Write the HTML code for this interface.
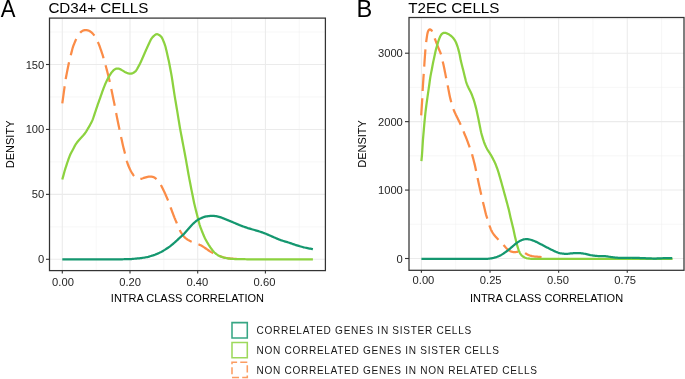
<!DOCTYPE html>
<html><head><meta charset="utf-8"><style>
html,body{margin:0;padding:0;background:#fff;}
body{width:685px;height:379px;overflow:hidden;}
svg{display:block;will-change:transform;}
text{font-family:"Liberation Sans",sans-serif;}
.tk{font-size:11.2px;fill:#262626;}
.at{font-size:11px;fill:#000;}
.ti{font-size:15.2px;fill:#000;}
.lt{font-size:23.6px;fill:#000;}
.lg{font-size:11.2px;fill:#1a1a1a;}
</style></head><body>
<svg width="685" height="379" viewBox="0 0 685 379">
<rect width="685" height="379" fill="#fff"/>
<line x1="96.15" y1="18.10" x2="96.15" y2="270.60" stroke="#f1f1f1" stroke-width="0.55"/>
<line x1="163.85" y1="18.10" x2="163.85" y2="270.60" stroke="#f1f1f1" stroke-width="0.55"/>
<line x1="231.55" y1="18.10" x2="231.55" y2="270.60" stroke="#f1f1f1" stroke-width="0.55"/>
<line x1="299.25" y1="18.10" x2="299.25" y2="270.60" stroke="#f1f1f1" stroke-width="0.55"/>
<line x1="49.50" y1="226.83" x2="325.40" y2="226.83" stroke="#f1f1f1" stroke-width="0.55"/>
<line x1="49.50" y1="161.90" x2="325.40" y2="161.90" stroke="#f1f1f1" stroke-width="0.55"/>
<line x1="49.50" y1="96.96" x2="325.40" y2="96.96" stroke="#f1f1f1" stroke-width="0.55"/>
<line x1="49.50" y1="32.03" x2="325.40" y2="32.03" stroke="#f1f1f1" stroke-width="0.55"/>
<line x1="62.30" y1="18.10" x2="62.30" y2="270.60" stroke="#ebebeb" stroke-width="1.07"/>
<line x1="130.00" y1="18.10" x2="130.00" y2="270.60" stroke="#ebebeb" stroke-width="1.07"/>
<line x1="197.70" y1="18.10" x2="197.70" y2="270.60" stroke="#ebebeb" stroke-width="1.07"/>
<line x1="265.40" y1="18.10" x2="265.40" y2="270.60" stroke="#ebebeb" stroke-width="1.07"/>
<line x1="49.50" y1="259.30" x2="325.40" y2="259.30" stroke="#ebebeb" stroke-width="1.07"/>
<line x1="49.50" y1="194.37" x2="325.40" y2="194.37" stroke="#ebebeb" stroke-width="1.07"/>
<line x1="49.50" y1="129.43" x2="325.40" y2="129.43" stroke="#ebebeb" stroke-width="1.07"/>
<line x1="49.50" y1="64.50" x2="325.40" y2="64.50" stroke="#ebebeb" stroke-width="1.07"/>
<path d="M62.30,103.30 L62.44,102.31 L62.57,101.32 L62.71,100.33 L62.85,99.33 L62.99,98.34 L63.12,97.35 L63.26,96.36 L63.40,95.37 L63.53,94.38 L63.67,93.39 L63.81,92.40 L63.94,91.40 L64.08,90.41 L64.22,89.42 L64.36,88.43 L64.50,87.44 L64.63,86.45 L64.77,85.46 L64.91,84.47 L65.05,83.47 L65.19,82.48 L65.33,81.49 L65.48,80.50 L65.63,79.51 L65.80,78.53 L65.98,77.54 L66.16,76.56 L66.35,75.58 L66.53,74.59 L66.72,73.61 L66.91,72.63 L67.09,71.64 L67.29,70.66 L67.48,69.68 L67.68,68.70 L67.88,67.72 L68.09,66.74 L68.30,65.76 L68.50,64.78 L68.71,63.80 L68.93,62.83 L69.15,61.85 L69.37,60.87 L69.61,59.90 L69.85,58.93 L70.09,57.96 L70.34,56.99 L70.58,56.02 L70.82,55.05 L71.07,54.08 L71.31,53.11 L71.56,52.14 L71.80,51.17 L72.05,50.20 L72.30,49.23 L72.56,48.26 L72.85,47.31 L73.16,46.36 L73.51,45.42 L73.88,44.49 L74.26,43.57 L74.64,42.64 L75.03,41.72 L75.42,40.80 L75.82,39.89 L76.24,38.98 L76.69,38.09 L77.17,37.22 L77.68,36.36 L78.21,35.51 L78.75,34.67 L79.32,33.86 L79.93,33.07 L80.59,32.35 L81.31,31.69 L82.09,31.11 L82.93,30.64 L83.82,30.30 L84.75,30.09 L85.71,30.03 L86.67,30.10 L87.62,30.29 L88.55,30.59 L89.44,30.99 L90.29,31.48 L91.10,32.05 L91.85,32.68 L92.55,33.38 L93.20,34.12 L93.82,34.90 L94.41,35.71 L94.96,36.54 L95.47,37.39 L95.95,38.26 L96.42,39.15 L96.87,40.04 L97.31,40.94 L97.75,41.83 L98.18,42.74 L98.59,43.65 L98.98,44.57 L99.34,45.50 L99.68,46.44 L100.01,47.38 L100.35,48.33 L100.68,49.27 L101.01,50.22 L101.33,51.16 L101.66,52.11 L101.98,53.06 L102.30,54.01 L102.60,54.96 L102.89,55.92 L103.17,56.88 L103.44,57.84 L103.71,58.80 L103.99,59.77 L104.26,60.73 L104.53,61.69 L104.81,62.65 L105.08,63.62 L105.36,64.58 L105.63,65.54 L105.90,66.50 L106.17,67.47 L106.43,68.44 L106.68,69.40 L106.93,70.37 L107.18,71.34 L107.42,72.31 L107.67,73.28 L107.92,74.25 L108.16,75.22 L108.41,76.19 L108.65,77.16 L108.89,78.14 L109.12,79.11 L109.34,80.09 L109.56,81.06 L109.77,82.04 L109.99,83.02 L110.20,83.99 L110.42,84.97 L110.63,85.95 L110.84,86.93 L111.06,87.91 L111.27,88.88 L111.47,89.86 L111.68,90.84 L111.88,91.82 L112.08,92.80 L112.29,93.78 L112.49,94.76 L112.69,95.74 L112.89,96.72 L113.10,97.70 L113.30,98.68 L113.50,99.66 L113.70,100.64 L113.91,101.62 L114.11,102.60 L114.31,103.58 L114.50,104.57 L114.70,105.55 L114.89,106.53 L115.08,107.51 L115.27,108.49 L115.46,109.48 L115.65,110.46 L115.84,111.44 L116.03,112.42 L116.22,113.41 L116.41,114.39 L116.60,115.37 L116.79,116.36 L116.98,117.34 L117.18,118.32 L117.37,119.30 L117.57,120.28 L117.77,121.26 L117.98,122.24 L118.18,123.22 L118.39,124.20 L118.59,125.18 L118.80,126.16 L119.00,127.14 L119.21,128.12 L119.41,129.10 L119.62,130.08 L119.83,131.06 L120.03,132.04 L120.24,133.01 L120.45,133.99 L120.66,134.97 L120.87,135.95 L121.08,136.93 L121.29,137.91 L121.50,138.88 L121.72,139.86 L121.93,140.84 L122.14,141.82 L122.35,142.80 L122.57,143.77 L122.79,144.75 L123.02,145.72 L123.26,146.70 L123.50,147.67 L123.74,148.64 L123.99,149.61 L124.23,150.58 L124.48,151.55 L124.72,152.52 L124.97,153.49 L125.21,154.46 L125.44,155.43 L125.68,156.41 L125.90,157.38 L126.13,158.36 L126.35,159.33 L126.60,160.30 L126.86,161.26 L127.16,162.22 L127.48,163.16 L127.82,164.10 L128.17,165.04 L128.54,165.97 L128.92,166.89 L129.32,167.81 L129.73,168.72 L130.16,169.63 L130.60,170.52 L131.07,171.40 L131.56,172.27 L132.08,173.12 L132.63,173.96 L133.19,174.79 L133.77,175.59 L134.40,176.36 L135.06,177.09 L135.77,177.76 L136.52,178.33 L137.33,178.76 L138.19,179.01 L139.10,179.07 L140.05,178.98 L141.01,178.80 L141.96,178.54 L142.92,178.25 L143.86,177.94 L144.81,177.62 L145.77,177.33 L146.73,177.06 L147.69,176.82 L148.66,176.63 L149.64,176.52 L150.61,176.50 L151.58,176.59 L152.53,176.79 L153.45,177.10 L154.32,177.52 L155.15,178.04 L155.93,178.63 L156.66,179.29 L157.33,180.01 L157.96,180.78 L158.56,181.58 L159.14,182.39 L159.71,183.21 L160.27,184.04 L160.79,184.89 L161.29,185.75 L161.76,186.63 L162.21,187.53 L162.65,188.43 L163.08,189.33 L163.52,190.23 L163.95,191.13 L164.38,192.03 L164.80,192.94 L165.22,193.85 L165.62,194.77 L166.02,195.68 L166.42,196.60 L166.82,197.52 L167.21,198.44 L167.60,199.36 L167.98,200.29 L168.35,201.22 L168.71,202.15 L169.06,203.09 L169.40,204.03 L169.73,204.97 L170.07,205.92 L170.40,206.86 L170.74,207.80 L171.09,208.74 L171.44,209.68 L171.79,210.61 L172.14,211.55 L172.49,212.49 L172.85,213.42 L173.20,214.36 L173.56,215.30 L173.92,216.23 L174.28,217.16 L174.65,218.09 L175.04,219.01 L175.42,219.94 L175.82,220.86 L176.21,221.78 L176.61,222.70 L177.00,223.62 L177.39,224.54 L177.79,225.46 L178.18,226.38 L178.57,227.30 L178.96,228.22 L179.36,229.14 L179.77,230.05 L180.21,230.94 L180.69,231.81 L181.20,232.67 L181.74,233.51 L182.29,234.34 L182.87,235.16 L183.47,235.95 L184.11,236.70 L184.80,237.41 L185.53,238.08 L186.30,238.71 L187.10,239.30 L187.93,239.85 L188.79,240.35 L189.67,240.81 L190.57,241.25 L191.48,241.66 L192.40,242.04 L193.34,242.40 L194.28,242.73 L195.22,243.06 L196.16,243.40 L197.10,243.74 L198.04,244.10 L198.96,244.48 L199.86,244.90 L200.76,245.35 L201.63,245.82 L202.50,246.33 L203.35,246.85 L204.19,247.39 L205.02,247.94 L205.85,248.50 L206.68,249.07 L207.50,249.64 L208.32,250.22 L209.14,250.79 L209.97,251.34 L210.81,251.87 L211.67,252.38 L212.55,252.85 L213.44,253.31 L214.33,253.76 L215.23,254.21 L216.13,254.65 L217.03,255.07 L217.95,255.47 L218.88,255.84 L219.81,256.18 L220.76,256.51 L221.71,256.82 L222.66,257.12 L223.62,257.39 L224.59,257.63 L225.57,257.83 L226.55,258.01 L227.54,258.18 L228.53,258.33 L229.52,258.46 L230.51,258.57 L231.51,258.65 L232.50,258.72 L233.50,258.77 L234.50,258.82 L235.50,258.88 L236.50,258.93 L237.50,258.98 L238.50,259.03 L239.50,259.08 L240.00,259.10" fill="none" stroke="#fb8c47" stroke-width="2.25" stroke-linejoin="round" stroke-dasharray="17.2 7.25"/>
<path d="M62.30,179.50 L62.56,178.54 L62.83,177.57 L63.09,176.61 L63.36,175.64 L63.62,174.68 L63.89,173.71 L64.15,172.75 L64.42,171.78 L64.69,170.82 L64.98,169.86 L65.27,168.90 L65.57,167.95 L65.88,167.00 L66.19,166.05 L66.49,165.10 L66.81,164.14 L67.12,163.20 L67.44,162.25 L67.77,161.30 L68.10,160.36 L68.43,159.42 L68.77,158.47 L69.11,157.53 L69.46,156.60 L69.83,155.67 L70.22,154.75 L70.64,153.85 L71.09,152.96 L71.56,152.08 L72.04,151.20 L72.52,150.32 L72.99,149.44 L73.45,148.55 L73.90,147.66 L74.35,146.77 L74.82,145.88 L75.31,145.02 L75.84,144.17 L76.39,143.34 L76.97,142.53 L77.58,141.73 L78.20,140.95 L78.85,140.19 L79.51,139.44 L80.18,138.70 L80.87,137.97 L81.56,137.25 L82.24,136.52 L82.92,135.79 L83.58,135.04 L84.21,134.27 L84.83,133.48 L85.41,132.67 L85.98,131.85 L86.51,131.01 L87.03,130.15 L87.53,129.29 L88.03,128.42 L88.54,127.56 L89.04,126.69 L89.54,125.83 L90.03,124.96 L90.51,124.08 L90.98,123.19 L91.43,122.30 L91.87,121.40 L92.28,120.49 L92.66,119.57 L93.02,118.64 L93.36,117.70 L93.68,116.75 L94.00,115.81 L94.31,114.86 L94.63,113.91 L94.95,112.96 L95.26,112.01 L95.58,111.06 L95.90,110.11 L96.21,109.16 L96.53,108.21 L96.85,107.27 L97.17,106.32 L97.49,105.37 L97.82,104.43 L98.15,103.48 L98.49,102.54 L98.82,101.60 L99.16,100.66 L99.50,99.72 L99.84,98.77 L100.17,97.83 L100.51,96.89 L100.84,95.94 L101.17,95.00 L101.49,94.05 L101.82,93.11 L102.15,92.16 L102.49,91.22 L102.83,90.28 L103.18,89.34 L103.53,88.41 L103.89,87.47 L104.25,86.54 L104.62,85.61 L105.00,84.68 L105.38,83.76 L105.78,82.85 L106.20,81.94 L106.64,81.04 L107.08,80.14 L107.54,79.25 L108.00,78.37 L108.47,77.48 L108.96,76.61 L109.45,75.74 L109.96,74.88 L110.49,74.04 L111.05,73.21 L111.64,72.41 L112.27,71.64 L112.92,70.90 L113.62,70.21 L114.37,69.60 L115.18,69.09 L116.05,68.72 L116.94,68.52 L117.85,68.51 L118.75,68.67 L119.66,68.98 L120.55,69.39 L121.42,69.85 L122.28,70.36 L123.13,70.89 L123.97,71.41 L124.83,71.92 L125.71,72.37 L126.61,72.77 L127.54,73.12 L128.48,73.41 L129.42,73.63 L130.35,73.74 L131.26,73.68 L132.15,73.45 L133.02,73.07 L133.86,72.59 L134.65,72.03 L135.37,71.39 L136.01,70.66 L136.57,69.87 L137.09,69.02 L137.58,68.16 L138.06,67.28 L138.54,66.40 L139.02,65.53 L139.49,64.64 L139.95,63.76 L140.39,62.86 L140.82,61.95 L141.23,61.04 L141.63,60.13 L142.03,59.21 L142.43,58.29 L142.83,57.38 L143.23,56.46 L143.63,55.54 L144.02,54.62 L144.42,53.70 L144.82,52.79 L145.22,51.87 L145.62,50.96 L146.03,50.04 L146.44,49.13 L146.86,48.22 L147.27,47.31 L147.69,46.40 L148.11,45.49 L148.52,44.58 L148.94,43.67 L149.36,42.76 L149.78,41.85 L150.20,40.95 L150.65,40.06 L151.13,39.20 L151.67,38.38 L152.28,37.61 L152.94,36.87 L153.64,36.17 L154.36,35.50 L155.09,34.90 L155.83,34.44 L156.60,34.20 L157.39,34.22 L158.20,34.49 L159.02,34.92 L159.82,35.45 L160.57,36.06 L161.23,36.74 L161.80,37.51 L162.27,38.36 L162.68,39.25 L163.07,40.17 L163.45,41.10 L163.82,42.02 L164.19,42.95 L164.55,43.89 L164.89,44.82 L165.20,45.77 L165.49,46.73 L165.74,47.69 L165.97,48.67 L166.20,49.64 L166.43,50.61 L166.65,51.59 L166.87,52.56 L167.10,53.54 L167.32,54.51 L167.54,55.49 L167.77,56.46 L167.99,57.44 L168.21,58.42 L168.43,59.39 L168.65,60.37 L168.86,61.35 L169.06,62.33 L169.26,63.31 L169.45,64.29 L169.63,65.27 L169.82,66.25 L170.00,67.24 L170.19,68.22 L170.38,69.20 L170.56,70.19 L170.75,71.17 L170.93,72.15 L171.12,73.14 L171.30,74.12 L171.48,75.10 L171.65,76.09 L171.82,77.08 L171.97,78.06 L172.12,79.05 L172.27,80.04 L172.42,81.03 L172.57,82.02 L172.71,83.01 L172.86,84.00 L173.01,84.99 L173.16,85.98 L173.30,86.97 L173.45,87.96 L173.60,88.95 L173.75,89.94 L173.89,90.93 L174.04,91.92 L174.19,92.91 L174.34,93.89 L174.50,94.88 L174.65,95.87 L174.82,96.86 L174.98,97.84 L175.15,98.83 L175.31,99.82 L175.48,100.80 L175.65,101.79 L175.81,102.78 L175.98,103.76 L176.14,104.75 L176.31,105.74 L176.48,106.72 L176.64,107.71 L176.81,108.70 L176.98,109.68 L177.14,110.67 L177.31,111.66 L177.47,112.64 L177.63,113.63 L177.79,114.62 L177.95,115.61 L178.11,116.59 L178.27,117.58 L178.43,118.57 L178.59,119.56 L178.75,120.54 L178.92,121.53 L179.08,122.52 L179.24,123.51 L179.40,124.49 L179.56,125.48 L179.72,126.47 L179.89,127.45 L180.06,128.44 L180.24,129.42 L180.42,130.41 L180.60,131.39 L180.79,132.37 L180.98,133.36 L181.16,134.34 L181.35,135.32 L181.53,136.31 L181.72,137.29 L181.91,138.27 L182.09,139.25 L182.28,140.24 L182.46,141.22 L182.65,142.20 L182.84,143.19 L183.02,144.17 L183.21,145.15 L183.39,146.14 L183.58,147.12 L183.77,148.10 L183.95,149.08 L184.14,150.07 L184.32,151.05 L184.51,152.03 L184.70,153.02 L184.88,154.00 L185.07,154.98 L185.25,155.97 L185.43,156.95 L185.61,157.93 L185.79,158.92 L185.97,159.90 L186.14,160.89 L186.31,161.87 L186.49,162.86 L186.66,163.84 L186.83,164.83 L187.01,165.82 L187.18,166.80 L187.35,167.79 L187.53,168.77 L187.70,169.76 L187.87,170.74 L188.04,171.73 L188.22,172.71 L188.39,173.70 L188.57,174.68 L188.74,175.67 L188.92,176.65 L189.11,177.64 L189.29,178.62 L189.48,179.60 L189.67,180.58 L189.86,181.56 L190.06,182.55 L190.25,183.53 L190.44,184.51 L190.63,185.49 L190.82,186.48 L191.01,187.46 L191.20,188.44 L191.39,189.42 L191.59,190.40 L191.78,191.38 L191.98,192.36 L192.18,193.34 L192.38,194.33 L192.58,195.31 L192.77,196.29 L192.97,197.27 L193.17,198.25 L193.37,199.23 L193.57,200.21 L193.77,201.19 L193.97,202.17 L194.18,203.15 L194.39,204.12 L194.62,205.10 L194.85,206.07 L195.09,207.04 L195.34,208.01 L195.58,208.98 L195.83,209.95 L196.07,210.92 L196.32,211.89 L196.56,212.86 L196.80,213.83 L197.05,214.80 L197.29,215.77 L197.54,216.74 L197.78,217.71 L198.02,218.68 L198.26,219.65 L198.51,220.63 L198.75,221.60 L199.00,222.56 L199.26,223.53 L199.53,224.49 L199.83,225.44 L200.15,226.39 L200.49,227.33 L200.84,228.27 L201.19,229.20 L201.55,230.14 L201.91,231.07 L202.27,232.00 L202.65,232.93 L203.03,233.85 L203.43,234.77 L203.82,235.69 L204.22,236.61 L204.63,237.52 L205.06,238.42 L205.51,239.32 L205.98,240.20 L206.46,241.07 L206.96,241.94 L207.46,242.80 L207.97,243.67 L208.49,244.52 L209.02,245.37 L209.57,246.20 L210.13,247.03 L210.71,247.85 L211.28,248.66 L211.87,249.47 L212.47,250.27 L213.09,251.04 L213.76,251.78 L214.46,252.47 L215.21,253.13 L215.98,253.76 L216.77,254.37 L217.59,254.93 L218.43,255.44 L219.31,255.89 L220.22,256.29 L221.15,256.66 L222.09,256.99 L223.04,257.29 L224.00,257.56 L224.97,257.80 L225.95,258.02 L226.92,258.22 L227.91,258.39 L228.90,258.53 L229.89,258.65 L230.88,258.76 L231.88,258.85 L232.87,258.93 L233.87,259.00 L234.87,259.06 L235.87,259.10 L236.87,259.12 L237.87,259.14 L238.87,259.16 L239.87,259.17 L240.87,259.18 L241.87,259.19 L242.87,259.21 L243.87,259.22 L244.87,259.23 L245.87,259.25 L246.87,259.26 L247.87,259.27 L248.87,259.28 L249.87,259.29 L250.87,259.30 L251.87,259.30 L252.87,259.30 L253.87,259.30 L254.87,259.30 L255.87,259.30 L256.88,259.30 L257.88,259.30 L258.88,259.30 L259.88,259.30 L260.88,259.30 L261.88,259.30 L262.88,259.30 L263.88,259.30 L264.88,259.30 L265.88,259.30 L266.88,259.30 L267.88,259.30 L268.88,259.30 L269.88,259.30 L270.88,259.30 L271.88,259.30 L272.88,259.30 L273.88,259.30 L274.88,259.30 L275.88,259.30 L276.88,259.30 L277.88,259.30 L278.89,259.30 L279.89,259.30 L280.89,259.30 L281.89,259.30 L282.89,259.30 L283.89,259.30 L284.89,259.30 L285.89,259.30 L286.89,259.30 L287.89,259.30 L288.89,259.30 L289.89,259.30 L290.89,259.30 L291.89,259.30 L292.89,259.30 L293.89,259.30 L294.89,259.30 L295.89,259.30 L296.89,259.30 L297.89,259.30 L298.89,259.30 L299.89,259.30 L300.89,259.30 L301.90,259.30 L302.90,259.30 L303.90,259.30 L304.90,259.30 L305.90,259.30 L306.90,259.30 L307.90,259.30 L308.90,259.30 L309.90,259.30 L310.90,259.30 L311.90,259.30 L312.90,259.30" fill="none" stroke="#8cd23f" stroke-width="2.25" stroke-linejoin="round"/>
<path d="M62.30,259.30 L63.30,259.30 L64.30,259.30 L65.30,259.30 L66.30,259.30 L67.30,259.30 L68.30,259.30 L69.30,259.30 L70.31,259.30 L71.31,259.30 L72.31,259.30 L73.31,259.30 L74.31,259.30 L75.31,259.30 L76.31,259.30 L77.31,259.30 L78.31,259.30 L79.31,259.30 L80.31,259.30 L81.31,259.30 L82.31,259.30 L83.31,259.30 L84.32,259.30 L85.32,259.30 L86.32,259.30 L87.32,259.30 L88.32,259.30 L89.32,259.30 L90.32,259.30 L91.32,259.30 L92.32,259.30 L93.32,259.30 L94.32,259.30 L95.32,259.30 L96.32,259.30 L97.32,259.30 L98.33,259.30 L99.33,259.30 L100.33,259.30 L101.33,259.30 L102.33,259.30 L103.33,259.30 L104.33,259.30 L105.33,259.30 L106.33,259.30 L107.33,259.30 L108.33,259.30 L109.33,259.30 L110.33,259.30 L111.33,259.30 L112.34,259.30 L113.34,259.30 L114.34,259.30 L115.34,259.30 L116.34,259.30 L117.34,259.30 L118.34,259.30 L119.34,259.29 L120.34,259.29 L121.34,259.28 L122.34,259.26 L123.34,259.25 L124.34,259.23 L125.34,259.22 L126.34,259.20 L127.34,259.19 L128.34,259.16 L129.34,259.13 L130.34,259.08 L131.34,259.01 L132.34,258.93 L133.33,258.84 L134.33,258.75 L135.33,258.66 L136.32,258.57 L137.32,258.47 L138.32,258.38 L139.31,258.27 L140.30,258.16 L141.30,258.03 L142.29,257.89 L143.28,257.75 L144.27,257.59 L145.25,257.43 L146.23,257.24 L147.21,257.03 L148.18,256.80 L149.15,256.54 L150.11,256.27 L151.07,255.99 L152.03,255.70 L152.98,255.40 L153.92,255.07 L154.86,254.72 L155.79,254.35 L156.72,253.98 L157.64,253.60 L158.56,253.20 L159.47,252.79 L160.37,252.35 L161.25,251.89 L162.12,251.40 L162.99,250.90 L163.85,250.39 L164.71,249.88 L165.56,249.35 L166.40,248.81 L167.23,248.26 L168.07,247.70 L168.89,247.13 L169.71,246.56 L170.51,245.96 L171.29,245.34 L172.06,244.71 L172.83,244.06 L173.58,243.41 L174.34,242.75 L175.09,242.09 L175.83,241.42 L176.57,240.74 L177.30,240.06 L178.03,239.37 L178.76,238.69 L179.49,238.01 L180.23,237.34 L180.98,236.67 L181.73,236.01 L182.47,235.34 L183.19,234.65 L183.89,233.94 L184.57,233.20 L185.23,232.45 L185.88,231.70 L186.54,230.94 L187.19,230.18 L187.85,229.43 L188.51,228.68 L189.17,227.93 L189.84,227.18 L190.51,226.43 L191.18,225.70 L191.86,224.97 L192.57,224.26 L193.29,223.56 L194.02,222.89 L194.77,222.22 L195.52,221.57 L196.29,220.94 L197.08,220.34 L197.91,219.80 L198.77,219.30 L199.66,218.85 L200.56,218.43 L201.47,218.02 L202.39,217.62 L203.31,217.25 L204.25,216.92 L205.20,216.66 L206.17,216.45 L207.15,216.29 L208.14,216.15 L209.13,216.02 L210.13,215.91 L211.12,215.83 L212.11,215.80 L213.10,215.84 L214.09,215.93 L215.08,216.06 L216.06,216.21 L217.05,216.38 L218.02,216.58 L218.99,216.81 L219.94,217.09 L220.89,217.42 L221.82,217.77 L222.75,218.14 L223.68,218.52 L224.60,218.89 L225.53,219.27 L226.46,219.64 L227.39,220.02 L228.31,220.40 L229.24,220.77 L230.17,221.15 L231.09,221.53 L232.02,221.91 L232.95,222.29 L233.87,222.67 L234.79,223.06 L235.71,223.45 L236.64,223.84 L237.56,224.23 L238.48,224.61 L239.40,225.00 L240.33,225.37 L241.26,225.73 L242.20,226.08 L243.14,226.43 L244.08,226.76 L245.03,227.10 L245.97,227.43 L246.92,227.76 L247.86,228.08 L248.82,228.38 L249.77,228.67 L250.73,228.95 L251.70,229.22 L252.66,229.49 L253.63,229.76 L254.59,230.02 L255.55,230.30 L256.51,230.58 L257.47,230.87 L258.42,231.17 L259.37,231.48 L260.33,231.79 L261.28,232.11 L262.22,232.43 L263.17,232.75 L264.11,233.09 L265.04,233.45 L265.97,233.83 L266.89,234.22 L267.80,234.62 L268.72,235.03 L269.64,235.43 L270.55,235.84 L271.47,236.24 L272.38,236.64 L273.30,237.04 L274.22,237.44 L275.14,237.83 L276.06,238.23 L276.98,238.62 L277.90,239.02 L278.82,239.40 L279.75,239.76 L280.69,240.11 L281.64,240.43 L282.59,240.73 L283.55,241.01 L284.51,241.30 L285.47,241.58 L286.43,241.86 L287.38,242.15 L288.34,242.46 L289.29,242.77 L290.23,243.09 L291.18,243.42 L292.12,243.75 L293.07,244.09 L294.01,244.42 L294.96,244.74 L295.91,245.06 L296.86,245.36 L297.82,245.65 L298.78,245.94 L299.74,246.22 L300.70,246.49 L301.66,246.76 L302.62,247.03 L303.59,247.29 L304.56,247.52 L305.54,247.74 L306.52,247.95 L307.50,248.14 L308.48,248.34 L309.46,248.53 L310.44,248.72 L311.43,248.91 L312.41,249.10 L312.90,249.20" fill="none" stroke="#14976f" stroke-width="2.25" stroke-linejoin="round"/>
<rect x="49.50" y="18.10" width="275.90" height="252.50" fill="none" stroke="#333333" stroke-width="1.25"/>
<line x1="62.30" y1="270.60" x2="62.30" y2="273.50" stroke="#333333" stroke-width="1.1"/>
<line x1="130.00" y1="270.60" x2="130.00" y2="273.50" stroke="#333333" stroke-width="1.1"/>
<line x1="197.70" y1="270.60" x2="197.70" y2="273.50" stroke="#333333" stroke-width="1.1"/>
<line x1="265.40" y1="270.60" x2="265.40" y2="273.50" stroke="#333333" stroke-width="1.1"/>
<line x1="46.00" y1="259.30" x2="49.50" y2="259.30" stroke="#333333" stroke-width="1.1"/>
<line x1="46.00" y1="194.37" x2="49.50" y2="194.37" stroke="#333333" stroke-width="1.1"/>
<line x1="46.00" y1="129.43" x2="49.50" y2="129.43" stroke="#333333" stroke-width="1.1"/>
<line x1="46.00" y1="64.50" x2="49.50" y2="64.50" stroke="#333333" stroke-width="1.1"/>
<text x="63.00" y="285.50" text-anchor="middle" class="tk">0.00</text>
<text x="130.17" y="285.50" text-anchor="middle" class="tk">0.20</text>
<text x="197.33" y="285.50" text-anchor="middle" class="tk">0.40</text>
<text x="264.50" y="285.50" text-anchor="middle" class="tk">0.60</text>
<text x="44.30" y="263.05" text-anchor="end" class="tk">0</text>
<text x="44.30" y="198.15" text-anchor="end" class="tk">50</text>
<text x="44.30" y="133.15" text-anchor="end" class="tk">100</text>
<text x="44.30" y="69.05" text-anchor="end" class="tk">150</text>
<text x="187.45" y="301.8" text-anchor="middle" class="at">INTRA CLASS CORRELATION</text>
<text transform="translate(14.20 144.35) rotate(-90)" text-anchor="middle" class="at">DENSITY</text>
<text x="48.40" y="12.9" class="ti">CD34+ CELLS</text>
<text transform="translate(0.80 17.0) scale(0.935 1)" class="lt">A</text>
<line x1="455.71" y1="17.50" x2="455.71" y2="270.30" stroke="#f1f1f1" stroke-width="0.55"/>
<line x1="524.34" y1="17.50" x2="524.34" y2="270.30" stroke="#f1f1f1" stroke-width="0.55"/>
<line x1="592.96" y1="17.50" x2="592.96" y2="270.30" stroke="#f1f1f1" stroke-width="0.55"/>
<line x1="661.59" y1="17.50" x2="661.59" y2="270.30" stroke="#f1f1f1" stroke-width="0.55"/>
<line x1="409.00" y1="224.28" x2="684.00" y2="224.28" stroke="#f1f1f1" stroke-width="0.55"/>
<line x1="409.00" y1="155.85" x2="684.00" y2="155.85" stroke="#f1f1f1" stroke-width="0.55"/>
<line x1="409.00" y1="87.42" x2="684.00" y2="87.42" stroke="#f1f1f1" stroke-width="0.55"/>
<line x1="409.00" y1="18.99" x2="684.00" y2="18.99" stroke="#f1f1f1" stroke-width="0.55"/>
<line x1="421.40" y1="17.50" x2="421.40" y2="270.30" stroke="#ebebeb" stroke-width="1.07"/>
<line x1="490.02" y1="17.50" x2="490.02" y2="270.30" stroke="#ebebeb" stroke-width="1.07"/>
<line x1="558.65" y1="17.50" x2="558.65" y2="270.30" stroke="#ebebeb" stroke-width="1.07"/>
<line x1="627.27" y1="17.50" x2="627.27" y2="270.30" stroke="#ebebeb" stroke-width="1.07"/>
<line x1="409.00" y1="258.50" x2="684.00" y2="258.50" stroke="#ebebeb" stroke-width="1.07"/>
<line x1="409.00" y1="190.07" x2="684.00" y2="190.07" stroke="#ebebeb" stroke-width="1.07"/>
<line x1="409.00" y1="121.64" x2="684.00" y2="121.64" stroke="#ebebeb" stroke-width="1.07"/>
<line x1="409.00" y1="53.21" x2="684.00" y2="53.21" stroke="#ebebeb" stroke-width="1.07"/>
<path d="M421.20,115.40 L421.26,114.40 L421.33,113.40 L421.39,112.40 L421.45,111.41 L421.52,110.41 L421.58,109.41 L421.65,108.41 L421.71,107.41 L421.77,106.41 L421.84,105.42 L421.90,104.42 L421.97,103.42 L422.03,102.42 L422.10,101.42 L422.16,100.42 L422.22,99.42 L422.28,98.43 L422.33,97.43 L422.37,96.43 L422.42,95.43 L422.46,94.43 L422.50,93.43 L422.55,92.43 L422.59,91.43 L422.65,90.43 L422.70,89.43 L422.76,88.43 L422.83,87.44 L422.89,86.44 L422.95,85.44 L423.02,84.44 L423.08,83.44 L423.15,82.44 L423.21,81.44 L423.28,80.45 L423.34,79.45 L423.41,78.45 L423.48,77.45 L423.55,76.45 L423.62,75.46 L423.69,74.46 L423.76,73.46 L423.83,72.46 L423.90,71.46 L423.96,70.46 L424.02,69.47 L424.09,68.47 L424.15,67.47 L424.22,66.47 L424.28,65.47 L424.34,64.47 L424.41,63.48 L424.47,62.48 L424.54,61.48 L424.61,60.48 L424.68,59.48 L424.76,58.49 L424.83,57.49 L424.90,56.49 L424.98,55.49 L425.05,54.49 L425.12,53.50 L425.20,52.50 L425.27,51.50 L425.35,50.50 L425.43,49.51 L425.52,48.51 L425.62,47.51 L425.71,46.52 L425.81,45.52 L425.91,44.53 L426.01,43.53 L426.11,42.54 L426.23,41.54 L426.35,40.55 L426.49,39.56 L426.63,38.57 L426.77,37.58 L426.92,36.59 L427.07,35.60 L427.23,34.61 L427.41,33.63 L427.63,32.67 L427.91,31.73 L428.27,30.86 L428.73,30.12 L429.29,29.61 L429.94,29.40 L430.60,29.55 L431.22,30.01 L431.75,30.71 L432.19,31.54 L432.58,32.44 L432.93,33.37 L433.27,34.31 L433.60,35.26 L433.93,36.20 L434.26,37.15 L434.60,38.09 L434.95,39.02 L435.30,39.96 L435.66,40.89 L436.02,41.83 L436.38,42.76 L436.74,43.69 L437.11,44.63 L437.47,45.56 L437.84,46.49 L438.22,47.41 L438.60,48.34 L438.98,49.26 L439.37,50.19 L439.76,51.11 L440.14,52.03 L440.50,52.96 L440.83,53.90 L441.13,54.85 L441.39,55.81 L441.63,56.78 L441.86,57.76 L442.09,58.73 L442.32,59.71 L442.54,60.68 L442.76,61.66 L442.98,62.63 L443.20,63.61 L443.43,64.58 L443.64,65.56 L443.86,66.54 L444.07,67.51 L444.28,68.49 L444.48,69.47 L444.67,70.46 L444.86,71.44 L445.06,72.42 L445.25,73.40 L445.44,74.38 L445.63,75.37 L445.82,76.35 L446.01,77.33 L446.21,78.31 L446.41,79.29 L446.61,80.27 L446.82,81.25 L447.02,82.23 L447.22,83.21 L447.42,84.19 L447.62,85.17 L447.82,86.15 L448.01,87.13 L448.20,88.11 L448.39,89.10 L448.57,90.08 L448.76,91.06 L448.94,92.05 L449.13,93.03 L449.32,94.01 L449.51,94.99 L449.72,95.97 L449.94,96.95 L450.17,97.92 L450.41,98.89 L450.65,99.86 L450.89,100.83 L451.14,101.80 L451.38,102.77 L451.63,103.74 L451.88,104.71 L452.15,105.67 L452.44,106.63 L452.76,107.57 L453.11,108.51 L453.49,109.43 L453.88,110.35 L454.28,111.27 L454.69,112.18 L455.10,113.09 L455.52,114.00 L455.94,114.91 L456.38,115.81 L456.81,116.71 L457.25,117.61 L457.69,118.51 L458.13,119.41 L458.57,120.30 L459.01,121.20 L459.45,122.10 L459.90,122.99 L460.34,123.89 L460.78,124.79 L461.21,125.69 L461.62,126.60 L462.01,127.52 L462.39,128.45 L462.75,129.38 L463.11,130.32 L463.46,131.25 L463.82,132.19 L464.18,133.12 L464.56,134.05 L464.94,134.97 L465.33,135.89 L465.72,136.81 L466.10,137.74 L466.48,138.66 L466.84,139.59 L467.20,140.53 L467.54,141.47 L467.89,142.41 L468.23,143.35 L468.57,144.29 L468.91,145.23 L469.25,146.17 L469.59,147.11 L469.92,148.06 L470.25,149.00 L470.58,149.94 L470.91,150.89 L471.23,151.83 L471.55,152.78 L471.86,153.74 L472.14,154.69 L472.41,155.66 L472.67,156.62 L472.93,157.59 L473.18,158.56 L473.43,159.53 L473.68,160.49 L473.93,161.46 L474.18,162.43 L474.43,163.40 L474.66,164.37 L474.89,165.35 L475.11,166.32 L475.32,167.30 L475.53,168.28 L475.73,169.26 L475.94,170.24 L476.14,171.22 L476.35,172.20 L476.55,173.18 L476.76,174.16 L476.96,175.13 L477.17,176.11 L477.38,177.09 L477.58,178.07 L477.79,179.05 L478.01,180.03 L478.22,181.00 L478.43,181.98 L478.64,182.96 L478.85,183.94 L479.07,184.92 L479.28,185.89 L479.49,186.87 L479.70,187.85 L479.92,188.83 L480.13,189.80 L480.35,190.78 L480.57,191.75 L480.80,192.73 L481.02,193.70 L481.25,194.68 L481.48,195.65 L481.71,196.63 L481.93,197.60 L482.16,198.58 L482.39,199.55 L482.62,200.52 L482.85,201.50 L483.08,202.47 L483.31,203.45 L483.54,204.42 L483.78,205.39 L484.01,206.36 L484.25,207.34 L484.48,208.31 L484.72,209.28 L484.95,210.25 L485.19,211.23 L485.43,212.20 L485.67,213.17 L485.92,214.13 L486.19,215.10 L486.48,216.05 L486.78,217.01 L487.09,217.96 L487.40,218.91 L487.71,219.86 L488.02,220.81 L488.32,221.77 L488.62,222.72 L488.91,223.68 L489.20,224.63 L489.50,225.59 L489.82,226.53 L490.16,227.47 L490.52,228.41 L490.90,229.33 L491.30,230.24 L491.73,231.14 L492.20,232.02 L492.71,232.87 L493.26,233.71 L493.83,234.52 L494.43,235.32 L495.05,236.10 L495.70,236.86 L496.38,237.59 L497.07,238.32 L497.76,239.04 L498.46,239.75 L499.17,240.46 L499.87,241.17 L500.58,241.88 L501.28,242.59 L501.98,243.31 L502.66,244.04 L503.33,244.78 L503.99,245.53 L504.64,246.29 L505.30,247.04 L505.98,247.77 L506.68,248.48 L507.41,249.15 L508.17,249.79 L508.97,250.38 L509.80,250.90 L510.67,251.34 L511.58,251.69 L512.52,251.93 L513.49,252.07 L514.46,252.10 L515.44,252.05 L516.42,251.93 L517.41,251.78 L518.39,251.63 L519.36,251.52 L520.33,251.49 L521.28,251.58 L522.21,251.80 L523.13,252.13 L524.02,252.54 L524.90,253.01 L525.76,253.50 L526.62,254.01 L527.48,254.49 L528.37,254.92 L529.29,255.28 L530.23,255.59 L531.20,255.84 L532.17,256.07 L533.15,256.25 L534.13,256.41 L535.12,256.53 L536.12,256.64 L537.11,256.74 L538.11,256.83 L539.11,256.91 L540.10,256.99 L541.10,257.06 L541.60,257.10" fill="none" stroke="#fb8c47" stroke-width="2.25" stroke-linejoin="round" stroke-dasharray="17.2 7.25"/>
<path d="M421.40,161.10 L421.50,160.10 L421.60,159.11 L421.69,158.11 L421.79,157.12 L421.88,156.12 L421.96,155.12 L422.04,154.13 L422.11,153.13 L422.18,152.13 L422.24,151.13 L422.30,150.13 L422.36,149.13 L422.42,148.13 L422.48,147.14 L422.55,146.14 L422.61,145.14 L422.67,144.14 L422.73,143.14 L422.80,142.14 L422.86,141.14 L422.94,140.15 L423.01,139.15 L423.10,138.15 L423.18,137.15 L423.27,136.16 L423.35,135.16 L423.44,134.16 L423.52,133.17 L423.61,132.17 L423.70,131.17 L423.78,130.18 L423.87,129.18 L423.95,128.18 L424.04,127.18 L424.13,126.19 L424.21,125.19 L424.30,124.19 L424.39,123.20 L424.49,122.20 L424.58,121.21 L424.68,120.21 L424.78,119.21 L424.88,118.22 L424.98,117.22 L425.08,116.23 L425.18,115.23 L425.28,114.24 L425.38,113.24 L425.49,112.25 L425.60,111.25 L425.72,110.26 L425.84,109.26 L425.97,108.27 L426.09,107.28 L426.22,106.29 L426.34,105.29 L426.47,104.30 L426.61,103.31 L426.74,102.32 L426.88,101.33 L427.02,100.34 L427.17,99.35 L427.31,98.36 L427.45,97.37 L427.59,96.37 L427.74,95.38 L427.88,94.39 L428.02,93.40 L428.17,92.41 L428.31,91.42 L428.46,90.43 L428.60,89.44 L428.74,88.45 L428.88,87.46 L429.03,86.47 L429.16,85.48 L429.30,84.49 L429.43,83.50 L429.57,82.51 L429.70,81.51 L429.83,80.52 L429.97,79.53 L430.11,78.54 L430.26,77.55 L430.42,76.56 L430.60,75.58 L430.79,74.60 L430.98,73.62 L431.17,72.63 L431.37,71.65 L431.56,70.67 L431.75,69.69 L431.94,68.71 L432.12,67.72 L432.31,66.74 L432.49,65.76 L432.68,64.77 L432.87,63.79 L433.06,62.81 L433.26,61.83 L433.46,60.85 L433.67,59.87 L433.88,58.89 L434.10,57.91 L434.31,56.94 L434.52,55.96 L434.73,54.98 L434.94,54.00 L435.16,53.02 L435.37,52.05 L435.59,51.07 L435.83,50.10 L436.07,49.13 L436.33,48.16 L436.60,47.20 L436.88,46.24 L437.16,45.28 L437.43,44.32 L437.72,43.36 L438.00,42.40 L438.30,41.44 L438.61,40.49 L438.94,39.55 L439.29,38.61 L439.66,37.69 L440.06,36.77 L440.49,35.88 L440.99,35.04 L441.56,34.27 L442.22,33.61 L442.97,33.13 L443.81,32.85 L444.70,32.80 L445.62,32.94 L446.53,33.24 L447.43,33.63 L448.31,34.08 L449.17,34.59 L450.00,35.13 L450.80,35.73 L451.56,36.36 L452.29,37.04 L452.97,37.75 L453.61,38.51 L454.20,39.31 L454.75,40.14 L455.25,41.00 L455.71,41.88 L456.12,42.78 L456.50,43.71 L456.86,44.64 L457.20,45.58 L457.53,46.52 L457.83,47.48 L458.11,48.44 L458.37,49.40 L458.62,50.37 L458.88,51.34 L459.12,52.31 L459.36,53.28 L459.58,54.25 L459.78,55.23 L459.97,56.21 L460.14,57.20 L460.31,58.18 L460.50,59.17 L460.70,60.15 L460.91,61.12 L461.15,62.09 L461.39,63.07 L461.64,64.04 L461.88,65.00 L462.13,65.97 L462.38,66.94 L462.63,67.91 L462.88,68.88 L463.12,69.85 L463.37,70.82 L463.61,71.79 L463.85,72.76 L464.09,73.73 L464.33,74.71 L464.57,75.68 L464.80,76.65 L465.04,77.62 L465.28,78.60 L465.52,79.57 L465.76,80.54 L466.03,81.50 L466.32,82.45 L466.64,83.40 L467.00,84.33 L467.38,85.25 L467.77,86.17 L468.18,87.08 L468.60,87.99 L469.04,88.89 L469.50,89.78 L469.97,90.66 L470.43,91.54 L470.88,92.43 L471.29,93.34 L471.67,94.26 L472.03,95.20 L472.38,96.13 L472.73,97.07 L473.07,98.01 L473.41,98.95 L473.73,99.90 L474.04,100.85 L474.33,101.80 L474.61,102.77 L474.87,103.73 L475.13,104.70 L475.40,105.66 L475.65,106.63 L475.91,107.60 L476.16,108.57 L476.39,109.54 L476.62,110.51 L476.83,111.49 L477.05,112.47 L477.26,113.44 L477.47,114.42 L477.68,115.40 L477.89,116.38 L478.09,117.36 L478.29,118.34 L478.49,119.32 L478.69,120.30 L478.89,121.28 L479.09,122.26 L479.28,123.24 L479.48,124.22 L479.67,125.21 L479.87,126.19 L480.06,127.17 L480.25,128.15 L480.44,129.13 L480.64,130.12 L480.84,131.10 L481.05,132.07 L481.28,133.04 L481.54,134.01 L481.81,134.97 L482.09,135.93 L482.37,136.89 L482.66,137.85 L482.95,138.81 L483.24,139.77 L483.55,140.72 L483.86,141.67 L484.21,142.60 L484.57,143.53 L484.95,144.46 L485.35,145.38 L485.76,146.29 L486.18,147.20 L486.62,148.09 L487.09,148.97 L487.60,149.83 L488.13,150.67 L488.68,151.51 L489.23,152.34 L489.77,153.18 L490.31,154.02 L490.84,154.88 L491.34,155.74 L491.82,156.62 L492.29,157.50 L492.75,158.38 L493.22,159.27 L493.67,160.16 L494.13,161.05 L494.57,161.95 L494.99,162.86 L495.39,163.77 L495.76,164.70 L496.13,165.63 L496.48,166.56 L496.84,167.50 L497.19,168.44 L497.52,169.38 L497.85,170.33 L498.16,171.28 L498.45,172.23 L498.74,173.19 L499.02,174.15 L499.30,175.11 L499.58,176.07 L499.85,177.03 L500.13,178.00 L500.41,178.96 L500.68,179.92 L500.95,180.88 L501.22,181.85 L501.49,182.81 L501.76,183.78 L502.02,184.74 L502.29,185.70 L502.56,186.67 L502.83,187.63 L503.09,188.60 L503.36,189.56 L503.63,190.53 L503.89,191.49 L504.16,192.46 L504.42,193.42 L504.69,194.39 L504.95,195.35 L505.22,196.32 L505.48,197.28 L505.74,198.25 L506.01,199.21 L506.27,200.18 L506.53,201.14 L506.79,202.11 L507.05,203.08 L507.31,204.04 L507.57,205.01 L507.82,205.98 L508.08,206.94 L508.34,207.91 L508.59,208.88 L508.83,209.85 L509.06,210.82 L509.29,211.80 L509.50,212.77 L509.72,213.75 L509.93,214.73 L510.15,215.71 L510.36,216.68 L510.58,217.66 L510.81,218.63 L511.04,219.61 L511.28,220.58 L511.52,221.55 L511.77,222.52 L512.01,223.49 L512.26,224.46 L512.50,225.43 L512.74,226.40 L512.97,227.38 L513.19,228.35 L513.41,229.33 L513.63,230.30 L513.84,231.28 L514.05,232.26 L514.26,233.24 L514.47,234.22 L514.68,235.19 L514.90,236.17 L515.12,237.15 L515.35,238.12 L515.58,239.09 L515.83,240.07 L516.07,241.04 L516.31,242.01 L516.56,242.98 L516.81,243.94 L517.06,244.91 L517.33,245.88 L517.61,246.84 L517.90,247.79 L518.20,248.75 L518.51,249.70 L518.84,250.64 L519.20,251.56 L519.61,252.46 L520.09,253.32 L520.64,254.14 L521.25,254.91 L521.92,255.62 L522.65,256.26 L523.45,256.81 L524.30,257.29 L525.20,257.70 L526.13,258.04 L527.07,258.30 L528.04,258.49 L529.02,258.62 L530.02,258.71 L531.01,258.77 L532.01,258.81 L533.01,258.83 L534.01,258.84 L535.01,258.85 L536.01,258.85 L537.01,258.85 L538.01,258.85 L539.01,258.85 L540.01,258.85 L541.02,258.85 L542.02,258.85 L543.02,258.85 L544.02,258.85 L545.02,258.85 L546.02,258.86 L547.02,258.86 L548.02,258.86 L549.02,258.86 L550.02,258.86 L551.02,258.86 L552.02,258.86 L553.02,258.86 L554.02,258.86 L555.02,258.86 L556.03,258.86 L557.03,258.86 L558.03,258.86 L559.03,258.86 L560.03,258.86 L561.03,258.86 L562.03,258.86 L563.03,258.86 L564.03,258.86 L565.03,258.86 L566.03,258.86 L567.03,258.86 L568.03,258.86 L569.03,258.86 L570.03,258.86 L571.03,258.86 L572.04,258.86 L573.04,258.86 L574.04,258.87 L575.04,258.87 L576.04,258.87 L577.04,258.87 L578.04,258.87 L579.04,258.87 L580.04,258.87 L581.04,258.87 L582.04,258.87 L583.04,258.87 L584.04,258.87 L585.04,258.87 L586.04,258.87 L587.05,258.87 L588.05,258.87 L589.05,258.87 L590.05,258.87 L591.05,258.87 L592.05,258.87 L593.05,258.87 L594.05,258.87 L595.05,258.87 L596.05,258.87 L597.05,258.87 L598.05,258.87 L599.05,258.87 L600.05,258.87 L601.05,258.87 L602.05,258.87 L603.06,258.88 L604.06,258.88 L605.06,258.88 L606.06,258.88 L607.06,258.88 L608.06,258.88 L609.06,258.88 L610.06,258.88 L611.06,258.88 L612.06,258.88 L613.06,258.88 L614.06,258.88 L615.06,258.88 L616.06,258.88 L617.06,258.88 L618.07,258.88 L619.07,258.88 L620.07,258.88 L621.07,258.88 L622.07,258.88 L623.07,258.88 L624.07,258.88 L625.07,258.88 L626.07,258.88 L627.07,258.88 L628.07,258.88 L629.07,258.88 L630.07,258.88 L631.07,258.89 L632.07,258.89 L633.07,258.89 L634.08,258.89 L635.08,258.89 L636.08,258.89 L637.08,258.89 L638.08,258.89 L639.08,258.89 L640.08,258.89 L641.08,258.89 L642.08,258.89 L643.08,258.89 L644.08,258.89 L645.08,258.89 L646.08,258.89 L647.08,258.89 L648.08,258.89 L649.08,258.89 L650.09,258.89 L651.09,258.89 L652.09,258.89 L653.09,258.89 L654.09,258.89 L655.09,258.89 L656.09,258.89 L657.09,258.89 L658.09,258.89 L659.09,258.90 L660.09,258.90 L661.09,258.90 L662.09,258.90 L663.09,258.90 L664.09,258.90 L665.10,258.90 L666.10,258.90 L667.10,258.90 L668.10,258.90 L669.10,258.90 L670.10,258.90 L671.10,258.90 L672.10,258.90 L672.60,258.90" fill="none" stroke="#8cd23f" stroke-width="2.25" stroke-linejoin="round"/>
<path d="M421.40,258.90 L422.40,258.90 L423.40,258.90 L424.40,258.90 L425.41,258.89 L426.41,258.89 L427.41,258.89 L428.41,258.89 L429.41,258.89 L430.41,258.89 L431.41,258.89 L432.41,258.88 L433.42,258.88 L434.42,258.88 L435.42,258.88 L436.42,258.88 L437.42,258.88 L438.42,258.87 L439.42,258.87 L440.43,258.87 L441.43,258.87 L442.43,258.87 L443.43,258.87 L444.43,258.87 L445.43,258.86 L446.43,258.86 L447.44,258.86 L448.44,258.86 L449.44,258.86 L450.44,258.86 L451.44,258.86 L452.44,258.85 L453.44,258.85 L454.44,258.85 L455.45,258.85 L456.45,258.85 L457.45,258.85 L458.45,258.85 L459.45,258.84 L460.45,258.84 L461.45,258.84 L462.46,258.84 L463.46,258.84 L464.46,258.84 L465.46,258.83 L466.46,258.83 L467.46,258.83 L468.46,258.83 L469.47,258.83 L470.47,258.83 L471.47,258.83 L472.47,258.82 L473.47,258.82 L474.47,258.82 L475.47,258.82 L476.47,258.82 L477.48,258.82 L478.48,258.82 L479.48,258.81 L480.48,258.81 L481.48,258.81 L482.48,258.81 L483.48,258.81 L484.49,258.81 L485.49,258.80 L486.49,258.79 L487.49,258.76 L488.48,258.70 L489.47,258.60 L490.46,258.46 L491.44,258.29 L492.42,258.09 L493.40,257.88 L494.37,257.64 L495.33,257.37 L496.29,257.08 L497.23,256.76 L498.17,256.41 L499.09,256.03 L500.00,255.62 L500.88,255.15 L501.74,254.65 L502.58,254.12 L503.42,253.57 L504.25,253.01 L505.07,252.44 L505.88,251.85 L506.69,251.26 L507.49,250.66 L508.28,250.04 L509.06,249.41 L509.82,248.77 L510.58,248.12 L511.34,247.46 L512.10,246.81 L512.86,246.16 L513.62,245.51 L514.39,244.87 L515.16,244.23 L515.94,243.61 L516.73,243.00 L517.54,242.41 L518.38,241.86 L519.23,241.35 L520.10,240.86 L520.99,240.42 L521.90,240.03 L522.84,239.70 L523.79,239.44 L524.76,239.25 L525.73,239.15 L526.72,239.13 L527.70,239.19 L528.69,239.32 L529.66,239.51 L530.62,239.76 L531.58,240.04 L532.53,240.36 L533.47,240.70 L534.40,241.06 L535.32,241.45 L536.23,241.86 L537.13,242.30 L538.02,242.75 L538.91,243.21 L539.80,243.67 L540.69,244.14 L541.57,244.61 L542.45,245.08 L543.34,245.55 L544.22,246.02 L545.11,246.48 L546.00,246.95 L546.89,247.41 L547.78,247.86 L548.67,248.32 L549.57,248.76 L550.47,249.21 L551.36,249.65 L552.26,250.09 L553.16,250.53 L554.06,250.97 L554.96,251.40 L555.87,251.81 L556.80,252.18 L557.74,252.51 L558.69,252.81 L559.65,253.08 L560.62,253.30 L561.60,253.47 L562.59,253.61 L563.59,253.71 L564.58,253.79 L565.58,253.84 L566.57,253.84 L567.57,253.80 L568.56,253.72 L569.55,253.61 L570.55,253.49 L571.54,253.37 L572.54,253.27 L573.53,253.18 L574.53,253.11 L575.53,253.06 L576.53,253.02 L577.53,253.01 L578.53,253.03 L579.52,253.09 L580.52,253.18 L581.51,253.29 L582.50,253.42 L583.49,253.57 L584.47,253.75 L585.45,253.95 L586.43,254.18 L587.40,254.41 L588.37,254.65 L589.35,254.87 L590.33,255.08 L591.31,255.26 L592.30,255.43 L593.28,255.58 L594.28,255.72 L595.27,255.84 L596.26,255.92 L597.26,255.98 L598.26,256.01 L599.26,256.03 L600.26,256.05 L601.26,256.06 L602.26,256.08 L603.26,256.11 L604.26,256.15 L605.26,256.23 L606.25,256.33 L607.24,256.46 L608.23,256.60 L609.23,256.75 L610.22,256.89 L611.21,257.04 L612.20,257.18 L613.19,257.31 L614.18,257.43 L615.18,257.54 L616.17,257.64 L617.17,257.74 L618.17,257.82 L619.17,257.88 L620.16,257.92 L621.16,257.94 L622.17,257.93 L623.17,257.92 L624.17,257.89 L625.17,257.87 L626.17,257.85 L627.17,257.82 L628.17,257.80 L629.17,257.78 L630.17,257.76 L631.17,257.75 L632.17,257.75 L633.18,257.76 L634.18,257.79 L635.18,257.82 L636.18,257.86 L637.18,257.90 L638.18,257.94 L639.18,257.98 L640.18,258.02 L641.18,258.06 L642.18,258.10 L643.18,258.14 L644.18,258.18 L645.18,258.22 L646.18,258.26 L647.18,258.30 L648.18,258.34 L649.18,258.38 L650.19,258.42 L651.19,258.46 L652.19,258.50 L653.19,258.52 L654.19,258.54 L655.19,258.53 L656.19,258.51 L657.19,258.47 L658.19,258.43 L659.19,258.39 L660.19,258.34 L661.19,258.30 L662.19,258.25 L663.19,258.22 L664.19,258.19 L665.19,258.16 L666.19,258.13 L667.19,258.11 L668.20,258.09 L669.20,258.07 L670.20,258.04 L671.20,258.02 L672.20,258.00" fill="none" stroke="#14976f" stroke-width="2.25" stroke-linejoin="round"/>
<rect x="409.00" y="17.50" width="275.00" height="252.80" fill="none" stroke="#333333" stroke-width="1.25"/>
<line x1="421.40" y1="270.30" x2="421.40" y2="272.70" stroke="#333333" stroke-width="1.1"/>
<line x1="490.02" y1="270.30" x2="490.02" y2="272.70" stroke="#333333" stroke-width="1.1"/>
<line x1="558.65" y1="270.30" x2="558.65" y2="272.70" stroke="#333333" stroke-width="1.1"/>
<line x1="627.27" y1="270.30" x2="627.27" y2="272.70" stroke="#333333" stroke-width="1.1"/>
<line x1="405.00" y1="258.50" x2="409.00" y2="258.50" stroke="#333333" stroke-width="1.1"/>
<line x1="405.00" y1="190.07" x2="409.00" y2="190.07" stroke="#333333" stroke-width="1.1"/>
<line x1="405.00" y1="121.64" x2="409.00" y2="121.64" stroke="#333333" stroke-width="1.1"/>
<line x1="405.00" y1="53.21" x2="409.00" y2="53.21" stroke="#333333" stroke-width="1.1"/>
<text x="423.45" y="283.70" text-anchor="middle" class="tk">0.00</text>
<text x="490.70" y="283.70" text-anchor="middle" class="tk">0.25</text>
<text x="558.00" y="283.70" text-anchor="middle" class="tk">0.50</text>
<text x="625.20" y="283.70" text-anchor="middle" class="tk">0.75</text>
<text x="402.85" y="263.15" text-anchor="end" class="tk">0</text>
<text x="402.85" y="194.30" text-anchor="end" class="tk">1000</text>
<text x="402.85" y="125.70" text-anchor="end" class="tk">2000</text>
<text x="402.85" y="57.35" text-anchor="end" class="tk">3000</text>
<text x="546.50" y="301.8" text-anchor="middle" class="at">INTRA CLASS CORRELATION</text>
<text transform="translate(366.40 143.90) rotate(-90)" text-anchor="middle" class="at">DENSITY</text>
<text x="408.25" y="12.9" class="ti">T2EC CELLS</text>
<text transform="translate(356.40 17.0) scale(1.000 1)" class="lt">B</text>
<path d="M232.00,337.90 L247.30,337.90 L247.30,322.60 L232.00,322.60 Z" fill="none" stroke="#14976f" stroke-width="1.55" opacity="0.85"/>
<text transform="translate(256.5 334.00) scale(0.900 1)" textLength="238.56" lengthAdjust="spacing" class="lg">CORRELATED GENES IN SISTER CELLS</text>
<path d="M232.00,357.70 L247.30,357.70 L247.30,342.40 L232.00,342.40 Z" fill="none" stroke="#8cd23f" stroke-width="1.55" opacity="0.85"/>
<text transform="translate(256.5 353.90) scale(0.900 1)" textLength="269.56" lengthAdjust="spacing" class="lg">NON CORRELATED GENES IN SISTER CELLS</text>
<path d="M232.00,377.50 L247.30,377.50 L247.30,362.20 L232.00,362.20 Z" fill="none" stroke="#fb8c47" stroke-width="1.55" opacity="0.85" stroke-dasharray="7.05 3.15"/>
<text transform="translate(256.5 373.80) scale(0.900 1)" textLength="311.67" lengthAdjust="spacing" class="lg">NON CORRELATED GENES IN NON RELATED CELLS</text>
</svg>
</body></html>
